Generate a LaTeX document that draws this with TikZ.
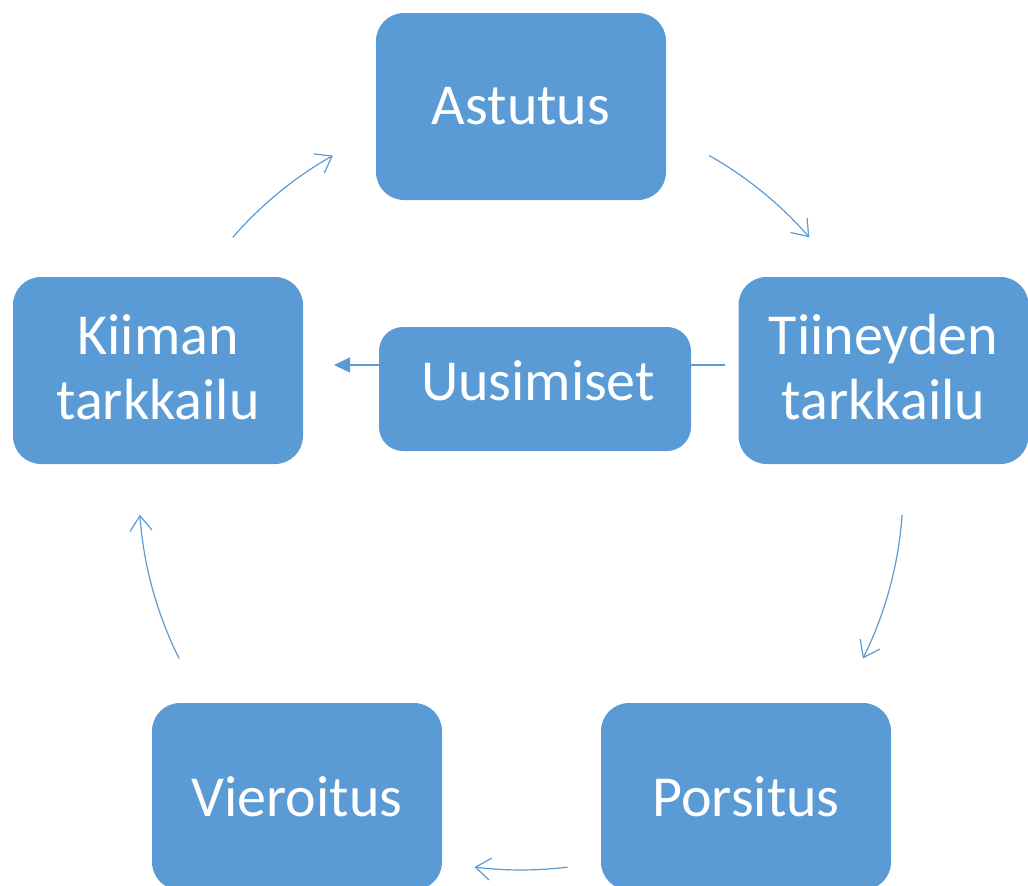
\documentclass[tikz,border=0pt]{standalone}
\usepackage{fontspec}
\setmainfont{Carlito}
\usetikzlibrary{arrows.meta}
\definecolor{boxc}{RGB}{91,155,213}
\tikzset{
  box/.style={fill=boxc, draw=none, rounded corners=28pt, minimum width=290pt, minimum height=187pt,
    text=white, font=\fontsize{58}{66}\selectfont, align=center, inner sep=0pt},
  ubox/.style={fill=boxc, draw=none, rounded corners=24pt, minimum width=312pt, minimum height=124pt, inner sep=0pt},
  lbl/.style={text=white, font=\fontsize{58}{65}\selectfont, align=center, inner sep=0pt},
  cyc/.style={draw=boxc, line width=1.2pt, -{Straight Barb[length=15pt,width=22pt,line width=1.2pt]}},
  conn/.style={draw=boxc, line width=1.5pt}
}
\begin{document}
\begin{tikzpicture}[x=1pt,y=-1pt]
\useasboundingbox (0,0) rectangle (1028,886);
\clip (0,0) rectangle (1028,886);
% nodes
\node[box] (as) at (521,106.5) {Astutus};
\node[box] (ti) at (883.5,370.5) {};
\node[lbl] (tit) at (883.5,367) {Tiineyden\\tarkkailu};
\node[box] (po) at (746,796.5) {Porsitus};
\node[box] (vi) at (297,796.5) {Vieroitus};
\node[box] (ki) at (158,370.5) {};
\node[lbl] (kit) at (158,367) {Kiiman\\tarkkailu};
\node[ubox] (uu) at (535,389) {};
\node[lbl] (uut) at (538,381) {Uusimiset};
% cycle arrows (arcs on a circle of radius 382 about the centre)
\coordinate (a1s) at (232.7,237.4);
\coordinate (a2s) at (709.1,155.5);
\coordinate (a3s) at (902.1,514.7);
\coordinate (a4s) at (567.6,867.1);
\coordinate (a5s) at (179.1,658.5);
\draw[cyc] (a1s) arc[start angle=-139, end angle=-119.5, radius=382];
\draw[cyc] (a2s) arc[start angle=-60.5, end angle=-41, radius=382];
\draw[cyc] (a3s) arc[start angle=4, end angle=26.5, radius=382];
\draw[cyc] (a4s) arc[start angle=83, end angle=97, radius=382];
\draw[cyc] (a5s) arc[start angle=153.5, end angle=176, radius=382];
% Uusimiset connector
\coordinate (uR) at (725,365);
\coordinate (uL) at (334,365);
\draw[conn] (uR) -- (uu.east |- uR);
\draw[conn, -{Triangle[length=16pt,width=15pt]}] (uu.west |- uL) -- (uL);
\end{tikzpicture}
\end{document}
